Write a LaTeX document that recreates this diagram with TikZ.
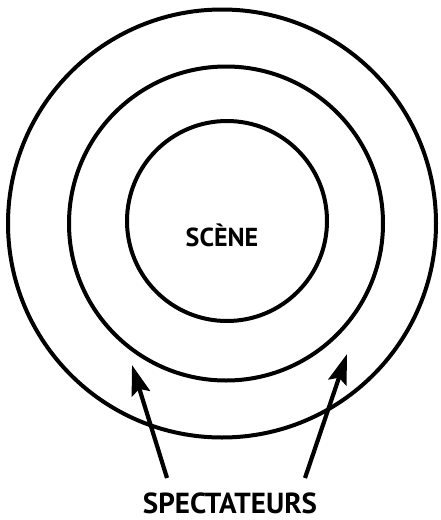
\documentclass[tikz,border=0pt]{standalone}
\usepackage{fontspec}
\setmainfont{PT Sans}
\usetikzlibrary{arrows.meta}
\begin{document}
\begin{tikzpicture}[x=1pt,y=-1pt,
  ring/.style={draw=black,line width=4pt,circle,inner sep=0pt},
  lbl/.style={font=\bfseries\fontsize{29}{29}\selectfont,inner sep=0pt},
  pointer/.style={line width=4.2pt,-{Stealth[length=30pt,width=19pt,inset=5pt]}}]
\useasboundingbox (0,0) rectangle (441,520);
\node[ring,minimum size=428pt] (outer) at (222,223.5) {};
\node[ring,minimum size=314pt] (middle) at (226,223.5) {};
\node[ring,minimum size=200pt] (inner) at (227,221) {};
\node[lbl,font=\bfseries\fontsize{26}{26}\selectfont] (scene) at (222,235) {SCÈNE};
\node[lbl,anchor=base] (spect) at (230,513) {SPECTATEURS};
\coordinate (lt) at (167,478);
\coordinate (lh) at (132,365);
\coordinate (rt) at (305,478);
\coordinate (rh) at (347,354);
\draw[pointer] (lt) -- (lh);
\draw[pointer] (rt) -- (rh);
\end{tikzpicture}
\end{document}
